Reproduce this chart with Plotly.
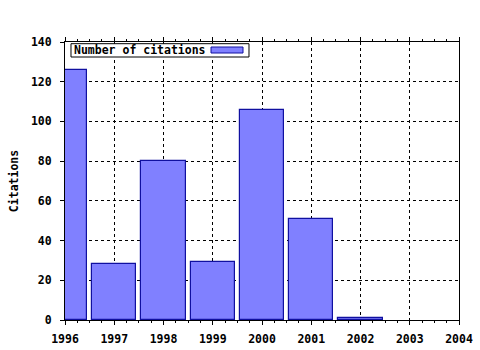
import plotly.graph_objects as go

years = [1996, 1997, 1998, 1999, 2000, 2001, 2002]
citations = [126, 28, 80, 29, 106, 51, 1]
x_ticks = [1996, 1997, 1998, 1999, 2000, 2001, 2002, 2003, 2004]
y_ticks = [0, 20, 40, 60, 80, 100, 120, 140]
series_name = "Number of citations"

FONT = "DejaVu Sans Mono"
FS = 11.5
BAR_FILL = "#8080ff"
BAR_LINE = "#1010a0"

fig = go.Figure()
fig.add_trace(go.Bar(
    x=years, y=citations, width=0.9, name=series_name,
    marker=dict(color=BAR_FILL, line=dict(color=BAR_LINE, width=1.2)),
    showlegend=False,
))

# hand-built legend box (text on left, swatch on right)
fig.add_shape(type="rect", xref="paper", yref="paper",
              x0=0.0152, x1=0.467, y0=0.946, y1=0.9939,
              line=dict(color="black", width=1), fillcolor="white", layer="above")
fig.add_shape(type="rect", xref="paper", yref="paper",
              x0=0.3706, x1=0.4518, y0=0.9604, y1=0.982,
              line=dict(color=BAR_LINE, width=1), fillcolor=BAR_FILL, layer="above")
fig.add_annotation(xref="paper", yref="paper", x=0.0185, y=0.970,
                   xanchor="left", yanchor="middle", showarrow=False,
                   text=f"<b>{series_name}</b>",
                   font=dict(family=FONT, size=FS, color="black"))

fig.update_layout(
    width=480, height=350,
    margin=dict(l=65, r=21, t=42, b=30),
    paper_bgcolor="white", plot_bgcolor="white",
    font=dict(family=FONT, size=FS, color="black"),
    showlegend=False,
    bargap=0,
    xaxis=dict(
        range=[1996, 2004], tickvals=x_ticks,
        ticktext=[f"<b>{t}</b>" for t in x_ticks],
        showline=True, linecolor="black", linewidth=1, mirror="allticks",
        ticks="outside", ticklen=4, tickcolor="black", ticklabelstandoff=4,
        minor=dict(dtick=0.25, ticks="outside", ticklen=2, tickcolor="black", showgrid=False),
        showgrid=True, gridcolor="black", griddash="dot", gridwidth=1,
        zeroline=False, tickfont=dict(family=FONT, size=FS), automargin=False,
    ),
    yaxis=dict(
        range=[0, 140], tickvals=y_ticks,
        ticktext=[f"<b>{t}</b>" for t in y_ticks],
        showline=True, linecolor="black", linewidth=1, mirror=True,
        ticks="outside", ticklen=4, tickcolor="black", ticklabelstandoff=6,
        showgrid=True, gridcolor="black", griddash="dot", gridwidth=1,
        zeroline=False, tickfont=dict(family=FONT, size=FS), automargin=False,
        title=dict(text="<b>Citations</b>", font=dict(family=FONT, size=FS), standoff=9),
    ),
)

fig.write_html("out.html")
